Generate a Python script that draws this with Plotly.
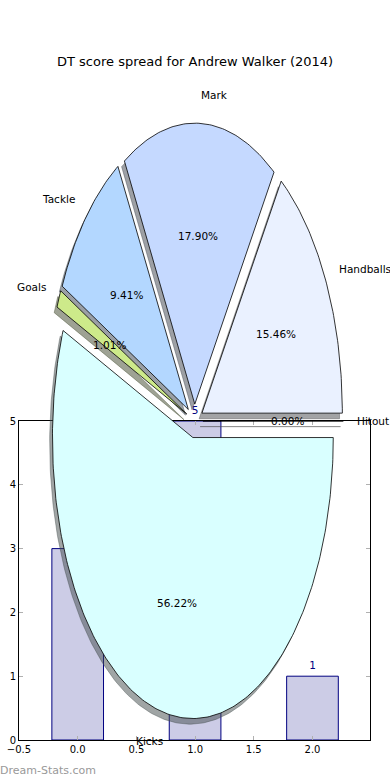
import numpy as np
import plotly.graph_objects as go

# ---------------- data ----------------
title_text = "DT score spread for Andrew Walker (2014)"
slice_labels = ["Hitout", "Handballs", "Mark", "Tackle", "Goals", "Kicks"]
slice_pcts = [0.00, 15.46, 17.90, 9.41, 1.01, 56.22]
slice_colors = ["#f0f0f0", "#eaf1ff", "#c5d9ff", "#b3d7ff", "#cdea8a", "#d9ffff"]
slice_explode = [0.06, 0.06, 0.06, 0.06, 0.06, 0.06]

bar_x = [0, 1, 2]
bar_y = [3, 5, 1]
bar_text = ["3", "5", "1"]
x_tick_vals = [-0.5, 0.0, 0.5, 1.0, 1.5, 2.0]
x_tick_text = ["\u22120.5", "0.0", "0.5", "1.0", "1.5", "2.0"]
y_tick_vals = [0, 1, 2, 3, 4, 5]
y_tick_text = ["0", "1", "2", "3", "4", "5"]
watermark = "Dream-Stats.com"

# ---------------- layout geometry ----------------
W, H = 390, 780
FONT = "DejaVu Sans"
ax_left, ax_right = 19, 370          # px
bar_top, bar_bottom = 421, 740        # px from top
pie_cy_px = 421
pie_half_h = 1.25 * 281

def hex_rgb(h):
    h = h.lstrip("#")
    return tuple(int(h[i:i + 2], 16) for i in (0, 2, 4))

fig = go.Figure()

# bars
fig.add_trace(go.Bar(
    x=bar_x, y=bar_y, width=0.44,
    marker=dict(color="rgb(204,204,230)", line=dict(color="#000080", width=1)),
    xaxis="x", yaxis="y", hoverinfo="skip", showlegend=False,
))
fig.add_trace(go.Scatter(
    x=bar_x, y=bar_y, mode="markers+text", text=bar_text, textposition="top center",
    marker=dict(size=6, opacity=0),
    textfont=dict(family=FONT, size=10.5, color="#000080"),
    xaxis="x", yaxis="y", hoverinfo="skip", showlegend=False, cliponaxis=False,
))

# pie wedges (matplotlib-style, counterclockwise from 0 deg)
fracs = np.array(slice_pcts) / np.sum(slice_pcts)
wedges = []
theta1 = 0.0
for frac, lab, col, ex in zip(fracs, slice_labels, slice_colors, slice_explode):
    theta2 = theta1 + frac
    tm = np.pi * (theta1 + theta2)
    cx, cy = ex * np.cos(tm), ex * np.sin(tm)
    ts = np.linspace(2 * np.pi * theta1, 2 * np.pi * theta2, max(3, int(400 * frac) + 3))
    xs = np.concatenate([[cx], cx + np.cos(ts), [cx]])
    ys = np.concatenate([[cy], cy + np.sin(ts), [cy]])
    wedges.append((xs, ys, col, lab, frac, tm, cx, cy))
    theta1 = theta2

# shadows
for xs, ys, col, lab, frac, tm, cx, cy in wedges:
    r, g, b = hex_rgb(col)
    sc = f"rgba({int(r*0.3)},{int(g*0.3)},{int(b*0.3)},0.5)"
    fig.add_trace(go.Scatter(
        x=xs - 0.02, y=ys - 0.02, mode="lines", fill="toself", fillcolor=sc,
        line=dict(color=sc, width=0.8), xaxis="x2", yaxis="y2",
        hoverinfo="skip", showlegend=False,
    ))
# wedges
for xs, ys, col, lab, frac, tm, cx, cy in wedges:
    fig.add_trace(go.Scatter(
        x=xs, y=ys, mode="lines", fill="toself", fillcolor=col,
        line=dict(color="black", width=0.8), xaxis="x2", yaxis="y2",
        hoverinfo="skip", showlegend=False,
    ))

annotations = []
for xs, ys, col, lab, frac, tm, cx, cy in wedges:
    xt = cx + 1.1 * np.cos(tm)
    yt = cy + 1.1 * np.sin(tm)
    annotations.append(dict(
        x=xt, y=yt, xref="x2", yref="y2", text=lab, showarrow=False,
        xanchor="left" if xt > 0 else "right", yanchor="middle",
        borderpad=0, borderwidth=0,
        font=dict(family=FONT, size=10.5, color="black"),
    ))
    xp = cx + 0.6 * np.cos(tm)
    yp = cy + 0.6 * np.sin(tm)
    annotations.append(dict(
        x=xp, y=yp, xref="x2", yref="y2", text=f"{frac*100:.2f}%", showarrow=False,
        xanchor="center", yanchor="middle", borderpad=0, borderwidth=0,
        font=dict(family=FONT, size=10.5, color="black"),
    ))

annotations.append(dict(
    x=0.5, y=(H - 61) / H, xref="paper", yref="paper", text=title_text,
    showarrow=False, xanchor="center", yanchor="middle",
    font=dict(family=FONT, size=13, color="black"),
))
annotations.append(dict(
    x=0, y=(H - 770) / H, xref="paper", yref="paper", text=watermark,
    showarrow=False, xanchor="left", yanchor="middle", borderpad=0, borderwidth=0,
    font=dict(family=FONT, size=11, color="#999999"),
))

fig.update_layout(
    template="none",
    width=W, height=H, margin=dict(l=0, r=0, t=0, b=0, pad=0, autoexpand=False),
    paper_bgcolor="white", plot_bgcolor="rgba(0,0,0,0)",
    font=dict(family=FONT),
    showlegend=False, annotations=annotations,
    xaxis=dict(
        domain=[ax_left / W, ax_right / W], range=[-0.5, 2.49], automargin=False,
        tickvals=x_tick_vals, ticktext=x_tick_text, ticks="inside", ticklen=4,
        tickcolor="#b0b0b0", showline=True, linecolor="black", linewidth=1,
        mirror="ticks", showgrid=False, zeroline=False,
        tickfont=dict(family=FONT, size=10, color="black"), fixedrange=True,
    ),
    yaxis=dict(
        domain=[(H - bar_bottom) / H, (H - bar_top) / H], range=[0, 5], automargin=False,
        tickvals=y_tick_vals, ticktext=y_tick_text, ticks="inside", ticklen=4,
        tickcolor="#b0b0b0", showline=True, linecolor="black", linewidth=1,
        mirror="ticks", showgrid=False, zeroline=False,
        tickfont=dict(family=FONT, size=10, color="black"), fixedrange=True,
    ),
    xaxis2=dict(
        domain=[ax_left / W, ax_right / W], range=[-1.25, 1.25], anchor="y2",
        visible=False, fixedrange=True, automargin=False,
    ),
    yaxis2=dict(
        domain=[(H - pie_cy_px - pie_half_h) / H, (H - pie_cy_px + pie_half_h) / H],
        range=[-1.25, 1.25], anchor="x2", visible=False, fixedrange=True, automargin=False,
    ),
)

fig.write_html(
    "out.html",
    config={"displayModeBar": False, "staticPlot": True},
    post_script="document.body.style.margin='0';document.body.style.overflow='hidden';",
)
